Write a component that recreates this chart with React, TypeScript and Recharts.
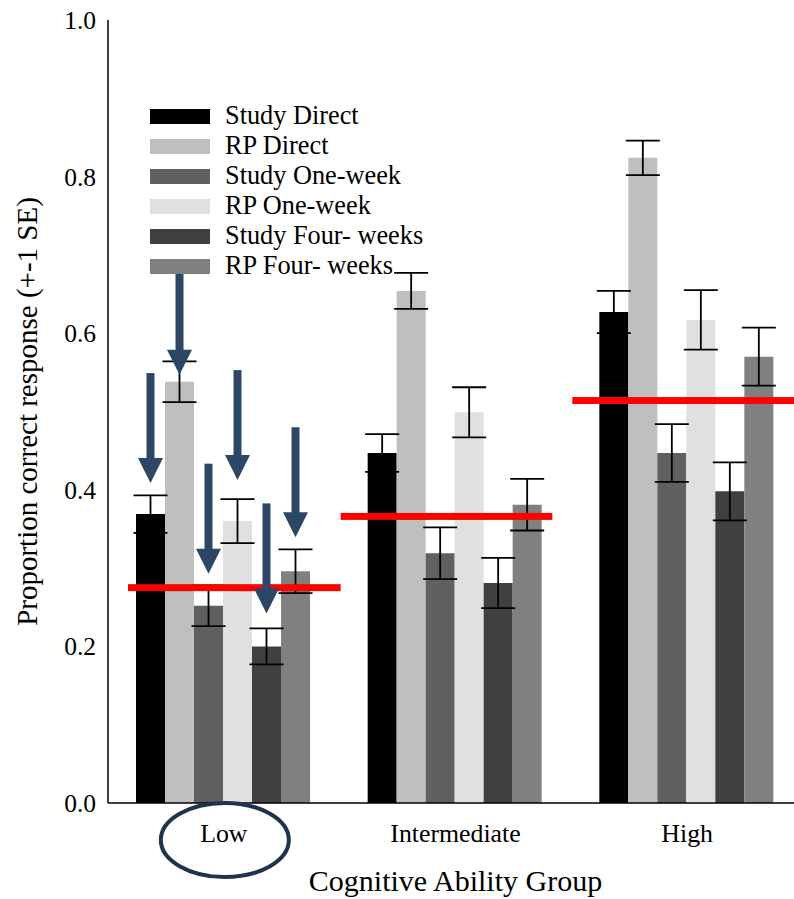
import React from 'react';
import { BarChart, Bar, XAxis, YAxis, ErrorBar, ReferenceArea, Legend, Label, LabelList } from 'recharts';

// ---- data ----
const categories = ['Low', 'Intermediate', 'High'];
const studyDirect = [0.369, 0.447, 0.627];
const rpDirect = [0.538, 0.654, 0.824];
const studyOneWeek = [0.252, 0.319, 0.447];
const rpOneWeek = [0.36, 0.499, 0.617];
const studyFourWeeks = [0.2, 0.281, 0.398];
const rpFourWeeks = [0.296, 0.381, 0.57];

const seStudyDirect = [0.024, 0.024, 0.027];
const seRpDirect = [0.026, 0.023, 0.022];
const seStudyOneWeek = [0.026, 0.033, 0.037];
const seRpOneWeek = [0.028, 0.032, 0.038];
const seStudyFourWeeks = [0.023, 0.032, 0.037];
const seRpFourWeeks = [0.028, 0.033, 0.037];

const groupMeans = [0.275, 0.366, 0.514];
const yTicks = [0, 0.2, 0.4, 0.6, 0.8, 1.0];
const seriesNames = ['Study Direct', 'RP Direct', 'Study One-week', 'RP One-week', 'Study Four- weeks', 'RP Four- weeks'];
const yAxisTitle = 'Proportion correct response (+-1 SE)';
const xAxisTitle = 'Cognitive Ability Group';
const circledCategory = 'Low';

// ---- styles ----
const FONT = '"Liberation Serif", "Times New Roman", serif';
const ARROW = '#2c4666';
const CIRCLE = '#1e334d';
const arrowTipGap = [31, 7, 32, 41, 33, 34];
const redInsets = [
  [20, -1],
  [1, 19],
  [1, 0],
];

const series = [
  { key: 'sd', name: seriesNames[0], values: studyDirect, se: seStudyDirect, color: '#000000' },
  { key: 'rpd', name: seriesNames[1], values: rpDirect, se: seRpDirect, color: '#bfbfbf' },
  { key: 'sow', name: seriesNames[2], values: studyOneWeek, se: seStudyOneWeek, color: '#606060' },
  { key: 'rpow', name: seriesNames[3], values: rpOneWeek, se: seRpOneWeek, color: '#e0e0e0' },
  { key: 'sfw', name: seriesNames[4], values: studyFourWeeks, se: seStudyFourWeeks, color: '#404040' },
  { key: 'rpfw', name: seriesNames[5], values: rpFourWeeks, se: seRpFourWeeks, color: '#808080' },
];

const data = categories.map((c, i) => {
  const row: any = { group: c };
  series.forEach((s) => {
    row[s.key] = s.values[i];
    row[s.key + 'Err'] = s.se[i];
  });
  return row;
});

const makeArrowLabel = (si: number) => (props: any) => {
  const vb = props.viewBox && props.viewBox.width != null ? props.viewBox : props;
  const { x, y, width } = vb;
  if (props.index !== 0) return null;
  const cx = x + width / 2;
  const tip = y - arrowTipGap[si];
  const headLen = 25;
  const start = tip - 110;
  return (
    <g>
      <rect x={cx - 4} y={start} width={8} height={110 - headLen + 1} fill={ARROW} />
      <polygon points={`${cx - 12.5},${tip - headLen} ${cx + 12.5},${tip - headLen} ${cx},${tip}`} fill={ARROW} />
    </g>
  );
};

const XTick = (props: any) => {
  const { x, y, payload } = props;
  const v = payload.value;
  return (
    <g>
      <text x={x} y={y + 38.5} textAnchor="middle" fontFamily={FONT} fontSize={25.8} fill="#000">
        {v}
      </text>
      {v === circledCategory && (
        <ellipse cx={x + 1} cy={y + 37} rx={64} ry={37} fill="none" stroke={CIRCLE} strokeWidth={4} />
      )}
    </g>
  );
};

const YTick = (props: any) => {
  const { x, y, payload } = props;
  return (
    <text x={x} y={y} dy="0.35em" textAnchor="end" fontFamily={FONT} fontSize={25.5} fill="#000">
      {Number(payload.value).toFixed(1)}
    </text>
  );
};

const LegendContent = () => (
  <div style={{ fontFamily: FONT, fontSize: 26.3, color: '#000' }}>
    {series.map((s) => (
      <div key={s.key} style={{ display: 'flex', alignItems: 'center', height: 30, whiteSpace: 'nowrap' }}>
        <div style={{ width: 60, height: 15, background: s.color, marginRight: 15 }} />
        <span style={{ lineHeight: '30px' }}>{s.name}</span>
      </div>
    ))}
  </div>
);

export default function App() {
  return (
    <div style={{ position: 'absolute', left: 0, top: 0, background: '#fff' }}>
      <BarChart
        width={810}
        height={899}
        data={data}
        margin={{ top: 20, right: 7, bottom: 0, left: 0 }}
        barCategoryGap={28}
        barGap={0}
      >
        <XAxis
          dataKey="group"
          height={96}
          axisLine={{ stroke: '#000', strokeWidth: 1.5 }}
          tickLine={false}
          tickSize={0}
          tickMargin={0}
          tick={<XTick />}
          interval={0}
        >
          <Label
            content={(p: any) => {
              const vb = p.viewBox;
              return (
                <text x={vb.x + vb.width / 2} y={891} textAnchor="middle" fontFamily={FONT} fontSize={30} fill="#000">
                  {xAxisTitle}
                </text>
              );
            }}
          />
        </XAxis>
        <YAxis
          width={108}
          domain={[0, 1]}
          ticks={yTicks}
          axisLine={{ stroke: '#000', strokeWidth: 1.5 }}
          tickLine={false}
          tickSize={0}
          tickMargin={12}
          tick={<YTick />}
          interval={0}
        >
          <Label
            content={(p: any) => {
              const vb = p.viewBox;
              const cx = 37;
              const cy = vb.y + vb.height / 2;
              return (
                <text
                  x={cx}
                  y={cy}
                  textAnchor="middle"
                  fontFamily={FONT}
                  fontSize={29}
                  fill="#000"
                  transform={`rotate(-90, ${cx}, ${cy})`}
                >
                  {yAxisTitle}
                </text>
              );
            }}
          />
        </YAxis>
        <Legend
          layout="vertical"
          align="center"
          verticalAlign="middle"
          wrapperStyle={{ left: 150, top: 101, width: 320 }}
          content={<LegendContent />}
        />
        {series.map((s, si) => (
          <Bar key={s.key} dataKey={s.key} name={s.name} fill={s.color} isAnimationActive={false}>
            <ErrorBar dataKey={s.key + 'Err'} width={17} stroke="#000" strokeWidth={1.8} direction="y" />
            <LabelList dataKey={s.key} content={makeArrowLabel(si)} zIndex={2500} />
          </Bar>
        ))}
        {categories.map((c, i) => (
          <ReferenceArea
            key={c}
            x1={c}
            x2={c}
            y1={groupMeans[i] - 0.001}
            y2={groupMeans[i] + 0.001}
            ifOverflow="visible"
            zIndex={1500}
            shape={(p: any) => (
              <rect
                x={p.x + redInsets[i][0]}
                y={p.y + p.height / 2 - 3.5}
                width={p.width - redInsets[i][0] - redInsets[i][1]}
                height={7}
                fill="#ff0000"
              />
            )}
          />
        ))}
      </BarChart>
    </div>
  );
}
